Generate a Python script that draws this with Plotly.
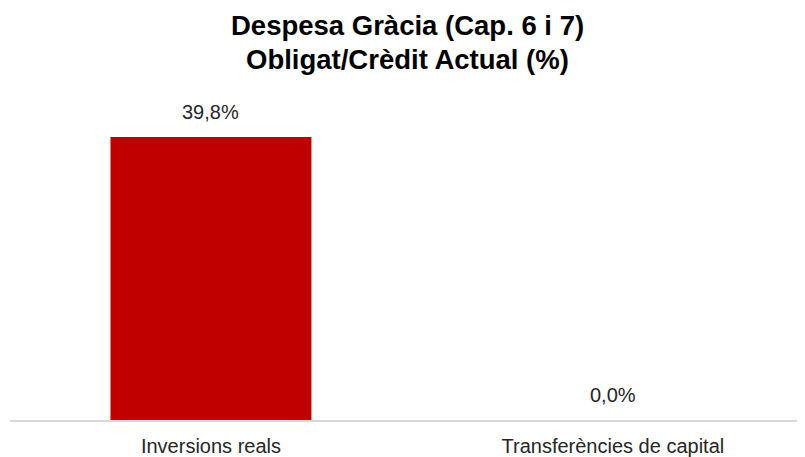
import plotly.graph_objects as go

categories = ["Inversions reals", "Transferències de capital"]
values = [39.8, 0.0]
title_line1 = "Despesa Gràcia (Cap. 6 i 7)"
title_line2 = "Obligat/Crèdit Actual (%)"

def fmt(v):
    return f"{v:.1f}".replace(".", ",") + "%"

FONT = "Liberation Sans, Arial"

fig = go.Figure(go.Bar(
    x=categories, y=values,
    marker=dict(color="#C00000", line=dict(width=0)),
    width=0.5,
    hoverinfo="skip",
))

for c, v in zip(categories, values):
    fig.add_annotation(x=c, y=v, text=fmt(v), showarrow=False,
                       yanchor="bottom", yshift=12,
                       font=dict(family=FONT, size=20, color="#262626"))

W, H = 797, 449
top, bottom = 87, 37
ph = H - top - bottom
fig.add_annotation(xref="paper", yref="paper", x=0.5, y=(H - bottom - 17.5) / ph,
                   text=f"<b>{title_line1}</b>", showarrow=False, yanchor="middle",
                   font=dict(family=FONT, size=27.5, color="#000000"))
fig.add_annotation(xref="paper", yref="paper", x=0.5, y=(H - bottom - 51.5) / ph,
                   text=f"<b>{title_line2}</b>", showarrow=False, yanchor="middle",
                   font=dict(family=FONT, size=27.5, color="#000000"))

fig.update_layout(
    width=W, height=H,
    margin=dict(l=2, r=0, t=top, b=bottom),
    paper_bgcolor="white", plot_bgcolor="white",
    showlegend=False,
    xaxis=dict(range=[-0.5, 1.478], showline=True, linecolor="#D9D9D9", linewidth=2,
               showgrid=False, ticks="", fixedrange=True, ticklabelstandoff=7,
               tickfont=dict(family=FONT, size=20, color="#262626")),
    yaxis=dict(range=[0, 45.7], visible=False, showgrid=False, zeroline=False),
)

fig.write_html("out.html")
